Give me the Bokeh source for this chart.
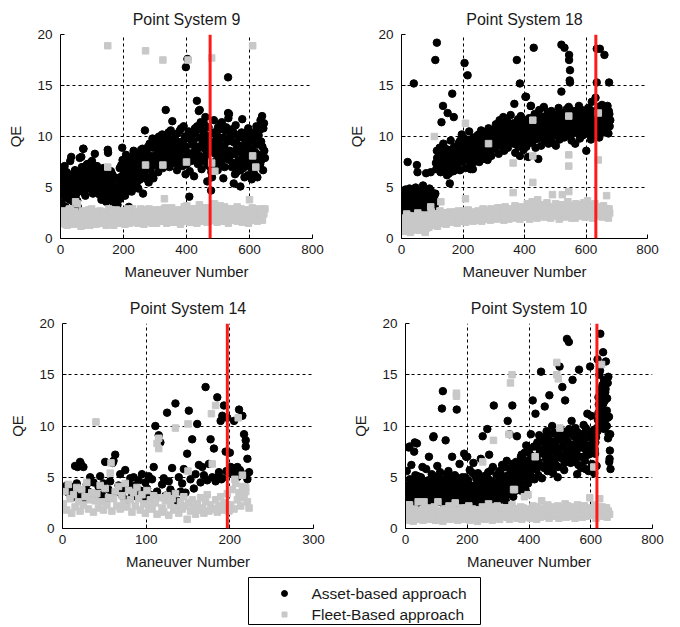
from bokeh.plotting import figure
from bokeh.layouts import column, row
from bokeh.models import Range1d, FixedTicker, Span
from bokeh.embed import file_html
from bokeh.resources import INLINE
from bokeh.core.properties import value

# ---------------- data ----------------
legend_labels = ["Asset-based approach", "Fleet-Based approach"]
panel_titles = ["Point System 9", "Point System 18", "Point System 14", "Point System 10"]
xticks_800 = [0, 200, 400, 600, 800]
xticks_300 = [0, 100, 200, 300]
yticks = [0, 5, 10, 15, 20]
split_maneuver = [475, 632, 197, 620]

# Point System 9
ps9_asset_n = list(range(1, 650, 3))
ps9_asset_qe = [
    6.8, 3.4, 5.9, 4.6, 7.1, 3.0, 5.2, 6.3, 4.1, 5.7, 7.6, 4.8, 6.0, 3.6, 5.4, 6.7, 4.3, 5.1, 3.1, 6.2,
    7.9, 4.7, 6.4, 5.3, 8.8, 6.9, 4.2, 5.8, 7.3, 6.1, 4.9, 6.6, 5.4, 7.6, 4.4, 6.2, 8.3, 5.7, 6.8, 4.6,
    5.9, 4.3, 6.5, 3.8, 5.4, 6.9, 4.7, 5.6, 3.6, 6.2, 8.4, 4.9, 5.3, 6.6, 4.1, 5.8, 3.4, 6.0, 4.5, 5.1,
    3.3, 4.8, 5.6, 3.9, 7.2, 8.9, 5.0, 6.4, 4.2, 8.2, 7.0, 5.7, 3.1, 6.8, 7.9, 4.6, 6.1, 8.6, 5.4, 7.4,
    6.3, 8.0, 4.9, 7.5, 5.8, 8.7, 6.6, 4.4, 7.8, 10.6, 6.0, 8.4, 7.1, 5.5, 9.3, 6.8, 7.7, 9.8, 5.9, 8.1,
    9.4, 7.2, 8.8, 6.5, 10.0, 7.9, 9.1, 8.3, 6.9, 9.7, 8.6, 12.6, 7.5, 9.0, 10.4, 7.0, 8.2, 9.6, 11.5, 8.9,
    7.4, 10.1, 8.5, 6.7, 9.3, 7.8, 10.6, 8.0, 9.5, 7.1, 11.0, 8.7, 6.3, 9.9, 17.6, 8.1, 4.1, 10.3, 7.6, 9.2,
    8.4, 6.1, 10.8, 9.0, 13.5, 7.3, 12.5, 8.9, 11.4, 6.8, 9.7, 10.5, 7.7, 11.9, 8.2, 5.6, 10.0, 9.4, 7.0, 4.7,
    6.0, 9.3, 11.6, 7.5, 8.8, 10.2, 6.7, 9.9, 8.1, 11.2, 7.2, 10.7, 5.9, 9.0, 8.4, 10.9, 7.8, 15.8, 12.2, 8.6,
    9.6, 7.0, 10.5, 5.4, 8.3, 11.1, 6.5, 9.2, 7.7, 10.0, 5.1, 8.9, 11.7, 6.9, 9.8, 7.4, 10.4, 8.0, 6.2, 9.4,
    7.1, 10.3, 5.8, 8.6, 6.4, 9.9, 7.6, 11.0, 6.0, 8.2, 10.6, 7.3, 9.5, 12.0, 6.7, 11.3, 7.9,
]
ps9_asset_n_b = list(range(2, 650, 3))
ps9_asset_qe_b = [
    5.1, 4.4, 6.2, 5.6, 4.0, 5.8, 6.5, 4.7, 5.3, 3.8, 6.0, 5.0, 4.3, 5.7, 6.4, 4.9, 5.5, 3.7, 4.6, 5.9,
    6.3, 5.0, 7.0, 5.7, 4.5, 6.6, 5.4, 7.2, 4.9, 6.0, 5.6, 7.4, 5.2, 6.8, 4.7, 5.9, 6.5, 5.1, 7.1, 5.5,
    5.2, 6.1, 4.6, 5.8, 4.2, 6.4, 5.0, 4.4, 6.7, 5.5, 4.8, 6.0, 3.9, 5.4, 6.3, 4.5, 5.1, 3.6, 4.9, 4.1,
    4.0, 5.9, 6.9, 4.5, 6.1, 7.7, 5.3, 7.3, 6.0, 4.7, 8.0, 6.6, 5.1, 7.5, 5.6, 6.3, 8.1, 5.0, 6.8, 7.1,
    7.2, 5.6, 8.3, 6.4, 7.9, 6.1, 8.8, 7.0, 6.5, 8.5, 7.6, 5.8, 9.0, 6.9, 8.1, 7.4, 6.2, 8.9, 7.3, 9.4,
    8.1, 9.8, 7.6, 8.9, 7.1, 9.4, 8.5, 10.2, 7.8, 9.0, 8.2, 9.9, 7.4, 8.7, 9.5, 7.9, 10.6, 8.4, 9.2, 7.7,
    8.8, 9.6, 7.5, 10.3, 8.2, 9.1, 7.2, 10.8, 8.6, 9.4, 7.9, 10.0, 9.0, 7.3, 8.4, 10.5, 6.6, 9.7, 8.0, 10.2,
    9.5, 7.8, 10.4, 8.6, 11.0, 7.4, 9.9, 8.1, 10.7, 9.2, 7.6, 11.3, 8.8, 10.1, 9.6, 7.2, 10.9, 8.5, 9.0, 6.5,
    8.9, 7.2, 10.4, 8.3, 9.7, 6.8, 10.9, 8.0, 9.3, 7.6, 11.4, 8.7, 9.9, 7.0, 10.6, 8.2, 9.5, 11.8, 7.7, 10.0,
    8.2, 10.7, 7.4, 9.4, 6.3, 10.2, 8.8, 7.1, 9.9, 8.5, 6.7, 10.4, 7.9, 9.1, 6.0, 8.6, 9.6, 7.3, 10.8, 8.0,
    8.9, 6.9, 9.7, 7.5, 10.4, 6.2, 8.4, 9.2, 7.0, 10.1, 8.0, 11.6, 7.7, 9.0, 10.8, 8.6,
]
ps9_asset_extra_n = [398, 532, 442, 150, 66, 72, 16, 34]
ps9_asset_extra_qe = [16.8, 12.3, 12.6, 8.7, 8.0, 8.8, 3.1, 8.0]
ps9_fleet_n = list(range(1, 650, 4))
ps9_fleet_qe = [
    2.1, 1.5, 2.7, 1.8, 2.4, 1.3, 2.0, 2.9, 1.6, 2.2, 1.4, 2.6, 1.9, 3.4, 1.7, 2.3, 1.2, 2.5, 2.0, 1.6,
    2.4, 1.8, 2.8, 1.3, 2.1, 1.6, 2.6, 2.0, 1.4, 2.3, 1.9, 2.7, 1.5, 2.2, 1.7, 2.5, 1.3, 2.0, 2.9, 1.8,
    1.6, 2.4, 1.3, 2.2, 2.8, 1.7, 2.0, 1.5, 2.6, 1.9, 2.3, 1.4, 2.7, 1.8, 2.1, 1.6, 2.5, 2.9, 1.7, 2.2,
    2.0, 1.5, 2.6, 2.2, 1.8, 2.8, 1.4, 2.4, 2.0, 1.7, 2.9, 2.3, 1.6, 2.5, 1.9, 2.7, 1.5, 2.1, 2.8, 1.8,
    2.3, 1.7, 2.9, 2.0, 1.5, 2.6, 2.2, 1.8, 3.0, 2.4, 1.6, 2.1, 2.7, 1.9, 2.5, 1.4, 2.8, 2.2, 1.7, 2.6,
    3.2, 2.0, 1.6, 2.7, 2.3, 1.8, 2.9, 2.1, 1.5, 2.5, 3.3, 1.9, 2.4, 1.7, 2.8, 2.2, 1.6, 3.0, 2.0, 2.6,
    1.8, 2.9, 3.4, 2.2, 1.6, 2.6, 2.0, 2.8, 1.7, 2.4, 3.1, 1.9, 2.3, 1.5, 2.7, 2.1, 2.9, 1.8, 2.5, 2.2,
    1.7, 2.6, 2.0, 2.9, 1.6, 2.3, 2.7, 1.9, 2.4, 1.5, 2.8, 2.1, 3.0, 1.8, 2.5, 2.2, 1.7, 2.6, 2.0, 2.9,
    1.8, 2.4, 2.9,
]
ps9_fleet_n_b = list(range(3, 650, 6))
ps9_fleet_qe_b = [
    1.9, 2.5, 1.4, 2.2, 2.8, 1.7, 2.0, 2.6, 1.5, 2.3, 1.8, 2.7, 1.3, 2.1, 2.4, 1.6, 2.9, 2.0, 1.7, 2.5,
    2.2, 1.5, 2.6, 1.9, 2.3, 1.4, 2.8, 2.0, 1.7, 2.5, 2.1, 1.6, 2.7, 1.8, 2.4, 2.9, 1.5, 2.2, 2.0, 2.6,
    1.8, 2.4, 2.9, 1.6, 2.2, 2.7, 1.9, 2.5, 1.5, 2.3, 2.8, 2.0, 1.7, 2.6, 2.1, 3.0, 1.8, 2.4, 2.2, 1.6,
    2.5, 2.0, 2.8, 1.7, 2.3, 3.1, 1.9, 2.6, 2.2, 1.6, 2.9, 2.4, 2.0, 2.7, 1.8, 2.5, 3.0, 2.1, 1.7, 2.6,
    2.3, 2.8, 1.9, 2.5, 3.2, 2.0, 2.6, 1.7, 2.9, 2.2, 2.4, 1.8, 2.7, 3.1, 2.1, 2.5, 1.9, 2.8, 2.3, 1.7,
    2.6, 2.2, 2.9, 1.8, 2.4, 2.7, 2.0, 2.5,
]
ps9_fleet_extra_n = [150, 270, 325, 405, 480, 610, 150, 270, 325, 400, 480, 490, 610, 620, 330, 600, 48]
ps9_fleet_extra_qe = [18.9, 18.4, 17.5, 17.5, 17.7, 18.9, 7.0, 7.2, 7.2, 7.5, 7.4, 6.6, 8.1, 7.0, 3.9, 3.8, 3.6]

# Point System 18
ps18_asset_n = list(range(1, 680, 3))
ps18_asset_qe = [
    3.6, 2.4, 4.3, 3.0, 4.8, 2.7, 3.9, 3.3, 2.2, 4.5, 3.7, 2.9, 4.1, 3.4, 2.6, 5.0, 3.1, 4.4, 2.5, 3.8,
    4.6, 2.8, 3.5, 5.2, 2.3, 4.0, 3.2, 4.7, 2.6, 3.9, 4.9, 2.4, 3.6, 4.3, 2.9, 4.1, 3.3, 7.4, 8.6, 6.9,
    7.6, 8.9, 6.5, 8.2, 7.1, 9.3, 6.8, 8.0, 7.4, 6.2, 8.7, 7.9, 5.4, 9.6, 7.2, 8.4, 6.6, 7.7, 9.0, 6.9,
    8.1, 7.3, 9.4, 6.7, 8.8, 10.2, 7.6, 9.0, 8.3, 6.9, 9.7, 8.5, 7.8, 10.5, 9.1, 7.2, 8.7, 6.8, 9.9, 8.0,
    9.3, 8.0, 10.1, 8.6, 7.5, 9.8, 10.6, 8.3, 9.1, 7.8, 10.3, 8.9, 9.5, 7.7, 10.8, 8.4, 9.7, 8.1, 10.0, 9.2,
    10.4, 8.8, 11.2, 9.6, 10.0, 8.3, 11.6, 9.3, 10.7, 9.0, 11.9, 8.6, 10.2, 9.8, 11.0, 8.9, 10.5, 9.4, 12.1, 10.1,
    9.5, 11.3, 13.2, 8.4, 10.8, 9.2, 11.7, 10.0, 8.1, 12.0, 9.7, 10.6, 8.7, 11.4, 13.9, 9.0, 10.9, 8.0, 11.8, 10.3,
    13.0, 9.4, 11.6, 10.1, 12.2, 8.9, 11.0, 9.8, 7.8, 12.6, 10.4, 9.1, 11.9, 10.7, 12.9, 9.6, 11.3, 10.0, 12.4, 9.3,
    11.2, 10.0, 12.5, 9.4, 11.8, 10.6, 12.1, 9.1, 11.4, 10.3, 12.8, 9.7, 11.0, 14.4, 10.8, 12.3, 9.9, 11.6, 10.2, 12.7,
    10.5, 12.9, 15.5, 11.1, 9.6, 12.4, 10.9, 11.7, 9.3, 12.0, 10.4, 11.5, 13.0, 9.8, 11.2, 12.6, 10.1, 11.9, 10.7, 12.2,
    8.6, 11.4, 12.8, 10.2, 11.9, 9.7, 13.4, 10.8, 12.3, 11.0, 13.8, 10.0, 12.6, 11.5, 9.9, 12.1, 10.6, 13.1, 11.2, 10.4,
    12.4, 10.9, 11.8, 13.0, 10.3, 12.2, 11.6,
]
ps18_asset_n_b = list(range(2, 680, 3))
ps18_asset_qe_b = [
    3.2, 4.0, 2.8, 4.6, 3.5, 2.6, 4.2, 3.0, 4.9, 3.7, 2.7, 4.4, 3.3, 2.9, 4.7, 3.9, 2.5, 4.1, 3.4, 4.5,
    3.1, 4.3, 2.7, 3.8, 4.8, 3.0, 4.5, 2.6, 3.6, 4.0, 2.9, 4.7, 3.3, 2.5, 4.2, 3.7, 4.4, 6.8, 7.9, 7.1,
    8.0, 7.0, 8.5, 7.5, 6.6, 8.3, 7.2, 8.8, 6.9, 7.7, 8.1, 6.4, 7.4, 8.6, 7.0, 7.9, 8.9, 6.7, 7.6, 8.2,
    8.6, 9.2, 7.9, 9.6, 8.3, 7.6, 9.0, 9.8, 8.1, 8.8, 7.7, 9.4, 8.5, 9.1, 7.8, 9.7, 8.2, 8.9, 7.5, 9.3,
    8.8, 9.6, 8.4, 10.2, 9.0, 8.2, 9.9, 8.7, 10.4, 9.3, 8.5, 9.7, 8.0, 10.0, 9.1, 8.6, 10.5, 9.4, 8.9, 9.8,
    9.7, 10.8, 9.2, 11.1, 10.3, 9.5, 11.4, 10.0, 9.1, 10.6, 11.2, 9.8, 10.9, 9.4, 11.5, 10.2, 9.6, 11.0, 10.4, 9.9,
    10.2, 9.3, 11.0, 9.8, 10.6, 11.4, 9.0, 10.4, 11.1, 9.6, 10.8, 9.2, 11.6, 10.1, 9.5, 10.7, 11.3, 9.9, 10.5, 9.4,
    10.9, 11.7, 10.2, 11.3, 9.7, 12.0, 10.6, 11.1, 10.0, 11.8, 9.9, 10.8, 11.5, 10.3, 11.9, 10.5, 9.6, 11.2, 10.7, 11.6,
    10.8, 11.6, 10.3, 12.0, 11.1, 10.6, 11.9, 10.1, 11.4, 12.2, 10.7, 11.3, 10.4, 11.8, 10.9, 12.1, 10.5, 11.2, 11.7, 10.2,
    11.4, 10.6, 12.2, 10.9, 11.7, 10.3, 12.5, 11.0, 11.9, 10.5, 12.3, 11.2, 10.8, 11.6, 12.0, 10.4, 11.3, 12.4, 10.7, 11.8,
    11.0, 12.2, 10.6, 11.7, 12.6, 10.9, 11.4, 12.0, 10.5, 11.8, 12.4, 11.1, 10.7, 12.9, 11.5, 10.8, 12.3, 11.2, 11.9, 10.6,
    11.4, 12.1, 10.8, 11.7, 12.5, 11.0,
]
ps18_asset_extra_n = [20, 40, 50, 52, 80, 95, 110, 115, 130, 135, 150, 165, 170, 205, 215, 225,
                      375, 385, 430, 405, 420, 520, 530, 545, 545, 548, 548, 635, 645, 660, 675, 635]
ps18_asset_extra_qe = [7.5, 15.2, 7.2, 6.5, 6.4, 6.5, 17.5, 19.2, 11.4, 13.0, 12.3, 14.2, 11.9, 17.2, 16.0, 6.8,
                       17.5, 15.2, 18.7, 13.9, 13.0, 19.0, 18.7, 18.0, 17.5, 16.5, 15.3, 18.6, 18.6, 18.0, 15.3, 15.3]
ps18_fleet_n = list(range(1, 678, 4))
ps18_fleet_qe = [
    1.2, 2.0, 0.7, 1.6, 2.4, 1.0, 1.8, 0.6, 1.4, 2.2, 0.9, 1.7, 1.3, 2.5, 0.8, 1.5, 2.1, 1.1, 1.9, 0.6,
    1.4, 2.3, 1.1, 1.8, 2.6, 1.3, 2.0, 1.6, 2.4, 1.2, 1.9, 2.7, 1.5, 2.1, 1.7, 2.5, 1.4, 2.2, 1.8, 2.6,
    2.0, 1.6, 2.5, 1.8, 2.3, 1.5, 2.7, 2.1, 1.7, 2.4, 1.9, 2.6, 1.6, 2.2, 2.8, 1.8, 2.3, 2.0, 1.7, 2.5,
    2.2, 1.8, 2.7, 2.0, 2.4, 1.7, 2.9, 2.1, 2.5, 1.9, 2.6, 2.2, 1.8, 2.8, 2.3, 2.0, 2.6, 1.9, 3.0, 2.4,
    2.5, 2.0, 2.8, 1.8, 3.1, 2.3, 2.6, 1.9, 2.9, 2.2, 2.7, 2.0, 3.2, 2.4, 2.1, 2.8, 1.9, 2.6, 3.0, 2.3,
    2.7, 2.1, 3.4, 2.4, 1.9, 2.9, 3.6, 2.2, 2.6, 3.1, 2.0, 2.8, 3.3, 2.3, 2.5, 3.0, 2.1, 2.7, 3.5, 2.4,
    2.6, 2.0, 3.1, 2.4, 2.8, 3.4, 2.2, 2.7, 1.9, 3.0, 2.5, 3.3, 2.1, 2.9, 2.4, 3.6, 2.2, 2.8, 2.0, 3.2,
    2.5, 2.0, 2.9, 3.3, 2.2, 2.7, 3.0, 2.4, 3.5, 2.1, 2.8, 3.7, 2.3, 2.6, 3.1, 2.0, 2.9, 3.4, 2.5, 2.2,
    3.0, 2.4, 2.8, 2.1, 3.2, 2.6, 2.3, 2.9, 2.0, 2.5,
]
ps18_fleet_n_b = list(range(3, 680, 6))
ps18_fleet_qe_b = [
    1.5, 0.9, 1.9, 1.2, 2.2, 0.8, 1.6, 2.0, 1.1, 1.7, 2.3, 1.3, 1.8, 1.0, 2.1, 1.5, 1.9, 2.4, 1.4, 2.0,
    1.8, 2.3, 1.6, 2.0, 2.5, 1.7, 2.2, 1.9, 2.6, 2.1, 1.8, 2.4, 2.0, 2.7, 1.9, 2.3, 2.5, 1.8, 2.2, 2.6,
    2.1, 2.6, 1.9, 2.4, 2.8, 2.2, 2.5, 2.0, 2.9, 2.3, 2.7, 2.1, 2.6, 3.0, 2.2, 2.5, 2.8, 2.3, 2.7, 2.4,
    2.4, 2.9, 2.2, 2.7, 3.1, 2.5, 2.3, 3.0, 2.6, 2.8, 2.2, 3.2, 2.5, 2.9, 2.4, 2.7, 3.3, 2.6, 2.3, 3.0,
    2.7, 2.3, 3.1, 2.5, 2.9, 3.3, 2.4, 2.8, 2.6, 3.2, 2.2, 2.9, 3.0, 2.5, 3.4, 2.7, 2.4, 3.1, 2.6, 2.9,
    2.5, 3.0, 2.7, 3.3, 2.4, 2.9, 3.1, 2.6, 2.8, 2.3, 2.7, 2.5, 2.9,
]
ps18_fleet_extra_n = [107, 128, 208, 208, 283, 363, 363, 427, 427, 427, 443, 491, 523, 544, 544, 544, 544, 640, 640, 667, 95]
ps18_fleet_extra_qe = [10.0, 3.6, 11.3, 3.9, 9.3, 7.4, 4.5, 11.6, 8.1, 5.5, 3.8, 4.3, 4.3, 12.0, 8.2, 7.1, 4.6, 7.7, 12.3, 4.2, 3.1]

# Point System 14
ps14_asset_n = list(range(1, 224, 2))
ps14_asset_qe = [
    4.0, 3.8, 4.2, 3.5, 4.1, 3.0, 3.9, 6.1, 4.4, 3.2, 6.5, 3.7, 6.0, 2.9, 4.3, 3.6, 5.0, 3.1, 4.5, 3.4,
    3.0, 4.1, 5.1, 3.3, 4.4, 6.5, 2.9, 3.8, 4.6, 3.1, 6.6, 7.2, 3.6, 4.2, 5.3, 3.2, 3.9, 5.7, 2.8, 4.4,
    4.9, 3.4, 5.0, 4.2, 3.1, 4.7, 3.7, 5.3, 3.0, 4.5, 3.9, 5.1, 3.3, 4.8, 6.0, 10.0, 3.6, 9.1, 8.4, 4.3,
    4.9, 3.2, 11.3, 4.6, 3.8, 5.9, 3.4, 12.2, 2.7, 5.0, 3.6, 4.4, 5.8, 3.5, 7.3, 11.5, 4.8, 8.7, 3.9, 5.3,
    10.2, 6.2, 4.5, 6.0, 5.2, 13.8, 4.7, 6.3, 8.7, 5.0, 7.8, 4.6, 12.8, 5.5, 10.5, 4.9, 12.0, 7.5, 10.8, 5.4,
    6.0, 5.3, 10.5, 5.8, 5.0, 11.6, 5.5, 11.0, 9.2, 8.0, 6.8, 5.5,
]
ps14_asset_extra_n = [18, 22, 60, 191, 209, 221, 219, 200, 185, 190, 196, 203, 207, 212]
ps14_asset_extra_qe = [6.0, 6.3, 6.4, 11.0, 6.0, 4.8, 8.6, 7.4, 5.0, 4.8, 5.6, 5.9, 5.3, 5.7]
ps14_fleet_n = list(range(1, 224, 2))
ps14_fleet_qe = [
    2.4, 3.6, 1.8, 4.3, 2.9, 1.5, 3.3, 2.1, 4.0, 2.6, 1.7, 3.8, 2.3, 3.1, 4.5, 1.9, 2.8, 3.5, 1.6, 2.7,
    3.4, 2.0, 4.2, 2.6, 1.8, 3.9, 2.3, 3.0, 5.4, 1.7, 2.9, 3.6, 2.2, 4.1, 1.9, 3.2, 2.5, 4.4, 2.1, 3.7,
    2.8, 1.6, 3.5, 2.2, 4.0, 2.9, 1.8, 3.3, 2.4, 1.5, 3.7, 2.1, 2.8, 1.9, 3.2, 2.5, 1.4, 8.8, 3.0, 2.0,
    1.6, 2.7, 3.2, 1.3, 2.3, 2.9, 1.8, 3.4, 2.0, 1.5, 2.6, 1.9, 3.1, 2.2, 0.9, 2.5, 1.7, 2.8, 2.1, 1.4,
    2.4, 1.8, 3.0, 2.0, 1.5, 2.6, 3.3, 1.7, 2.3, 6.3, 1.9, 2.8, 1.6, 2.2, 3.1, 1.8, 2.5, 2.0, 3.4, 1.7,
    2.3, 3.8, 1.9, 4.4, 2.8, 3.5, 2.2, 4.1, 3.0, 3.6, 2.6, 2.0,
]
ps14_fleet_extra_n = [40, 58, 115, 135, 150, 178, 183, 210, 215, 219, 150, 113, 206, 212]
ps14_fleet_extra_qe = [10.4, 6.4, 7.8, 9.8, 10.2, 11.2, 12.0, 10.8, 5.2, 4.0, 5.6, 8.3, 4.8, 3.3]

# Point System 10
ps10_asset_n = list(range(1, 665, 3))
ps10_asset_qe = [
    3.2, 5.6, 2.5, 4.1, 8.0, 3.0, 6.2, 2.7, 4.6, 7.5, 3.5, 2.3, 8.3, 5.1, 3.8, 2.6, 4.9, 3.1, 6.0, 2.9,
    4.4, 2.4, 5.8, 3.3, 2.8, 7.0, 4.0, 2.5, 5.3, 3.6, 9.0, 2.7, 4.7, 3.0, 6.1, 2.6, 4.2, 5.5, 3.4, 11.7,
    13.4, 2.9, 4.8, 8.6, 3.7, 2.4, 5.6, 3.2, 4.3, 2.8, 7.0, 3.9, 2.6, 5.2, 3.5, 11.6, 4.5, 2.3, 6.3, 3.8,
    2.9, 5.0, 3.4, 7.3, 2.5, 7.0, 4.6, 3.1, 2.4, 5.7, 3.6, 2.8, 4.1, 6.4, 3.0, 2.2, 4.9, 3.7, 5.4, 2.6,
    4.2, 6.8, 3.1, 9.0, 2.7, 4.8, 3.5, 2.4, 9.7, 5.5, 7.2, 3.0, 4.5, 2.6, 6.0, 12.0, 3.8, 2.9, 5.2, 3.4,
    3.9, 5.6, 2.8, 4.7, 6.2, 3.3, 5.0, 4.1, 2.7, 6.6, 10.5, 3.6, 9.2, 5.3, 4.4, 12.0, 3.1, 5.8, 4.9, 6.5,
    9.0, 4.2, 6.0, 5.1, 3.7, 7.2, 4.6, 6.7, 5.4, 3.9, 8.1, 5.8, 4.4, 7.6, 6.3, 9.2, 5.0, 12.5, 7.0, 4.8,
    11.2, 6.5, 8.4, 5.2, 9.1, 7.3, 15.3, 4.9, 8.8, 6.1, 11.9, 7.7, 9.5, 5.6, 8.0, 13.0, 6.8, 8.3, 10.0, 5.4,
    7.9, 9.3, 6.2, 8.6, 5.0, 7.4, 15.8, 9.7, 6.9, 13.8, 8.2, 5.7, 12.5, 8.9, 18.5, 7.1, 18.2, 9.4, 6.4, 10.5,
    14.5, 8.1, 6.6, 9.8, 7.5, 5.3, 8.7, 15.5, 7.0, 9.2, 6.0, 8.4, 10.1, 7.8, 5.8, 9.6, 11.2, 7.2, 8.9, 15.8,
    11.0, 6.3, 8.5, 5.6, 7.7, 9.4, 6.1, 16.5, 12.8, 15.0, 19.0, 13.0, 11.2, 17.2, 14.5, 12.5, 16.3, 10.0, 14.2, 9.2,
    6.8, 5.8,
]
ps10_asset_n_b = list(range(2, 665, 3))
ps10_asset_qe_b = [
    3.4, 2.6, 4.2, 3.0, 4.8, 2.8, 3.7, 4.4, 2.5, 3.9, 5.2, 3.1, 4.0, 2.7, 4.6, 3.3, 5.0, 2.9, 3.6, 4.3,
    2.8, 4.1, 3.5, 2.5, 4.7, 3.2, 3.9, 2.6, 4.4, 3.0, 5.1, 3.8, 2.7, 4.5, 3.3, 2.9, 4.9, 3.6, 4.0, 2.5,
    3.7, 4.5, 2.8, 3.4, 5.3, 2.6, 4.1, 3.0, 4.8, 3.9, 2.5, 4.3, 3.3, 5.0, 2.7, 3.8, 4.6, 3.1, 2.9, 4.2,
    3.5, 2.7, 4.4, 3.2, 5.0, 2.6, 3.9, 4.7, 3.0, 2.5, 4.2, 3.6, 5.4, 2.9, 4.0, 3.3, 2.7, 4.6, 3.1, 4.3,
    3.0, 4.5, 2.6, 3.8, 5.1, 2.9, 4.2, 3.4, 2.5, 4.8, 3.6, 5.6, 2.8, 4.0, 3.2, 4.6, 2.7, 3.9, 5.0, 3.3,
    4.3, 3.1, 5.4, 3.8, 2.9, 4.9, 3.5, 6.0, 4.2, 3.3, 5.2, 4.6, 3.7, 5.7, 4.0, 6.3, 4.8, 3.6, 5.5, 4.4,
    5.0, 6.4, 4.4, 5.7, 7.0, 4.9, 6.1, 5.3, 7.4, 4.7, 6.6, 5.5, 7.8, 6.0, 5.2, 7.1, 6.5, 5.8, 8.0, 6.2,
    7.0, 5.8, 8.2, 6.5, 7.7, 8.9, 6.1, 7.4, 8.5, 5.9, 7.9, 6.8, 9.0, 7.2, 6.3, 8.6, 7.5, 6.0, 8.1, 9.3,
    6.6, 8.4, 7.3, 9.1, 6.0, 7.8, 8.8, 6.9, 9.5, 7.1, 8.0, 6.4, 9.2, 7.6, 8.5, 6.8, 9.7, 7.4, 8.2, 6.7,
    7.7, 9.0, 6.5, 8.3, 7.2, 9.4, 6.2, 8.7, 7.9, 5.9, 9.1, 7.0, 8.5, 6.6, 9.8, 7.5, 8.1, 5.6, 9.3, 7.3,
    8.0, 6.0, 9.5, 5.4, 7.3, 8.9, 9.8, 10.6, 12.1, 11.4, 13.6, 10.3, 14.0, 12.2, 9.7, 13.3, 11.0, 12.7, 8.8, 10.9,
    7.6,
]
ps10_asset_extra_n = [10, 30, 90, 200, 630, 636, 642, 648, 652, 655, 657, 622, 625, 628, 660, 663, 645, 615, 610]
ps10_asset_extra_qe = [7.9, 8.4, 8.9, 7.0, 15.4, 12.0, 11.0, 13.6, 11.5, 10.8, 14.8, 9.5, 11.3, 10.2, 6.5, 9.2, 10.5, 8.4, 9.6]
ps10_fleet_n = list(range(1, 662, 4))
ps10_fleet_qe = [
    1.2, 0.8, 1.6, 2.3, 1.0, 1.4, 0.7, 1.9, 1.1, 1.5, 2.6, 0.9, 1.3, 1.8, 0.8, 1.2, 1.6, 1.0, 2.0, 1.4,
    0.9, 1.5, 1.1, 2.1, 0.8, 1.3, 2.6, 1.0, 1.7, 1.2, 0.7, 1.9, 1.4, 1.0, 1.6, 2.2, 0.9, 1.3, 1.8, 1.1,
    2.5, 1.2, 0.8, 1.6, 1.0, 2.0, 1.4, 0.9, 1.7, 1.1, 1.5, 2.2, 0.8, 1.3, 1.9, 1.0, 1.6, 1.2, 0.7, 1.8,
    1.3, 1.0, 2.1, 1.5, 0.9, 1.7, 1.2, 2.4, 1.0, 1.4, 0.8, 1.9, 1.3, 1.6, 2.2, 1.1, 0.9, 1.5, 1.8, 1.2,
    1.4, 2.0, 1.1, 1.7, 0.9, 1.5, 2.3, 1.2, 3.8, 1.6, 1.0, 1.9, 1.3, 2.1, 0.9, 1.4, 3.1, 1.7, 1.2, 3.3,
    1.5, 1.0, 1.8, 2.2, 1.3, 1.6, 0.9, 2.0, 1.4, 1.1, 2.7, 1.7, 1.2, 1.9, 1.5, 2.3, 1.0, 1.6, 1.3, 2.1,
    1.2, 1.8, 1.4, 2.2, 1.0, 1.6, 2.0, 1.3, 1.7, 2.4, 1.1, 1.5, 1.9, 1.2, 2.1, 1.4, 1.8, 1.0, 1.6, 2.3,
    1.3, 1.9, 1.5, 1.1, 2.2, 1.7, 1.2, 2.0, 1.4, 3.0, 1.6, 1.9, 1.3, 2.3, 1.0, 1.8, 1.5, 2.9, 1.2, 2.1,
    1.6, 1.3, 2.0, 1.1, 1.7, 1.4,
]
ps10_fleet_n_b = list(range(3, 662, 6))
ps10_fleet_qe_b = [
    1.0, 1.5, 1.2, 1.8, 0.9, 1.4, 1.7, 1.1, 1.6, 1.3, 2.0, 1.0, 1.5, 1.2, 1.8, 1.4, 0.9, 1.7, 1.3, 1.6,
    1.1, 1.5, 1.9, 1.2, 1.6, 1.0, 1.4, 1.8, 1.3, 1.7, 1.0, 1.5, 2.0, 1.2, 1.6, 1.4, 1.1, 1.8, 1.3, 1.5,
    1.6, 1.2, 1.9, 1.4, 1.0, 1.7, 1.5, 2.1, 1.3, 1.6, 1.1, 1.8, 1.4, 2.0, 1.2, 1.7, 1.5, 1.3, 1.9, 1.6,
    1.4, 1.8, 1.2, 2.0, 1.5, 1.7, 1.1, 1.9, 1.6, 1.3, 2.1, 1.5, 1.8, 1.2, 1.7, 2.0, 1.4, 1.6, 1.9, 1.3,
    1.7, 1.4, 2.1, 1.6, 1.2, 1.9, 1.5, 2.2, 1.3, 1.8, 1.6, 2.0, 1.4, 1.7, 1.9, 1.3, 2.2, 1.6, 1.8, 1.5,
    1.9, 1.4, 1.7, 2.1, 1.3, 1.8, 1.6, 1.5, 2.0, 1.4,
]
ps10_fleet_extra_n = [165, 165, 250, 285, 335, 340, 345, 350, 420, 490, 490, 495, 500, 610, 635, 10, 60]
ps10_fleet_extra_qe = [13.2, 12.9, 6.5, 8.6, 9.2, 14.2, 15.0, 3.8, 7.0, 16.2, 15.0, 14.6, 9.8, 6.0, 16.0, 2.3, 2.6]

# ---------------- styling ----------------
FONT = "Liberation Sans"
TEXT_COLOR = "#1a1a1a"
ASSET_COLOR = "#000000"
FLEET_COLOR = "#c8c8c8"
SPLIT_COLOR = "#ff1a1a"


def series(*parts):
    xs, ys = [], []
    for n, q in parts:
        k = min(len(n), len(q))
        xs += list(n[:k])
        ys += list(q[:k])
    return xs, ys


def make_panel(title, asset, fleet, xmax, xticks, split, w, h, bl, br, bt, bb, title_gap):
    p = figure(width=w, height=h,
               min_border_left=bl, min_border_right=br, min_border_top=bt, min_border_bottom=bb,
               x_range=Range1d(0, xmax), y_range=Range1d(0, 20),
               output_backend="svg", toolbar_location=None, title=title)
    p.title.align = "center"
    p.title.text_font = FONT
    p.title.text_font_size = "16px"
    p.title.text_font_style = "normal"
    p.title.text_color = TEXT_COLOR
    p.title.standoff = title_gap
    p.outline_line_color = None

    p.xaxis.ticker = FixedTicker(ticks=xticks)
    p.yaxis.ticker = FixedTicker(ticks=yticks)
    p.xaxis.axis_label = "Maneuver Number"
    p.yaxis.axis_label = "QE"
    for ax in (p.xaxis, p.yaxis):
        ax.axis_line_color = "black"
        ax.axis_line_width = 1
        ax.major_tick_in = 4
        ax.major_tick_out = 0
        ax.minor_tick_in = 0
        ax.minor_tick_out = 0
        ax.major_tick_line_color = "black"
        ax.major_label_text_font = FONT
        ax.major_label_text_font_size = "13.5px"
        ax.major_label_text_color = TEXT_COLOR
        ax.axis_label_text_font = FONT
        ax.axis_label_text_font_size = "15px"
        ax.axis_label_text_font_style = "normal"
        ax.axis_label_text_color = TEXT_COLOR
    p.xaxis.major_label_standoff = 6
    p.yaxis.major_label_standoff = 8
    p.xaxis.axis_label_standoff = 6
    p.yaxis.axis_label_standoff = 10

    p.grid.grid_line_color = "black"
    p.grid.grid_line_dash = "3 3"
    p.grid.grid_line_width = 1

    p.scatter(asset[0], asset[1], marker="circle", size=7.5, color=ASSET_COLOR)
    p.scatter(fleet[0], fleet[1], marker="square", size=6.5, color=FLEET_COLOR)
    p.add_layout(Span(location=split, dimension="height", line_color=SPLIT_COLOR, line_width=3))
    return p


p1 = make_panel(panel_titles[0],
                series((ps9_asset_n, ps9_asset_qe), (ps9_asset_n_b, ps9_asset_qe_b), (ps9_asset_extra_n, ps9_asset_extra_qe)),
                series((ps9_fleet_n, ps9_fleet_qe), (ps9_fleet_n_b, ps9_fleet_qe_b), (ps9_fleet_extra_n, ps9_fleet_extra_qe)),
                800, xticks_800, split_maneuver[0], 345, 290, 60, 33, 34, 52, 14)
p2 = make_panel(panel_titles[1],
                series((ps18_asset_n, ps18_asset_qe), (ps18_asset_n_b, ps18_asset_qe_b), (ps18_asset_extra_n, ps18_asset_extra_qe)),
                series((ps18_fleet_n, ps18_fleet_qe), (ps18_fleet_n_b, ps18_fleet_qe_b), (ps18_fleet_extra_n, ps18_fleet_extra_qe)),
                800, xticks_800, split_maneuver[1], 333, 290, 52, 31, 34, 52, 14)
p3 = make_panel(panel_titles[2],
                series((ps14_asset_n, ps14_asset_qe), (ps14_asset_extra_n, ps14_asset_extra_qe)),
                series((ps14_fleet_n, ps14_fleet_qe), (ps14_fleet_extra_n, ps14_fleet_extra_qe)),
                300, xticks_300, split_maneuver[2], 349, 285, 62, 36, 33, 47, 13)
p4 = make_panel(panel_titles[3],
                series((ps10_asset_n, ps10_asset_qe), (ps10_asset_n_b, ps10_asset_qe_b), (ps10_asset_extra_n, ps10_asset_extra_qe)),
                series((ps10_fleet_n, ps10_fleet_qe), (ps10_fleet_n_b, ps10_fleet_qe_b), (ps10_fleet_extra_n, ps10_fleet_extra_qe)),
                800, xticks_800, split_maneuver[3], 329, 285, 52, 26, 33, 47, 13)

# legend strip
leg = figure(width=678, height=50, x_range=Range1d(0, 678), y_range=Range1d(0, 50),
             x_axis_type=None, y_axis_type=None, min_border=0,
             output_backend="svg", toolbar_location=None)
leg.grid.visible = False
leg.outline_line_color = None
leg.quad(left=[248], right=[480], bottom=[1], top=[48], fill_color=None, line_color="black", line_width=1)
leg.scatter([284], [32], marker="circle", size=6, color=ASSET_COLOR)
leg.scatter([284], [11], marker="square", size=5, color=FLEET_COLOR)
leg.text([311, 311], [32, 11], text=legend_labels, text_font=value(FONT), text_font_size="15.5px",
         text_baseline="middle", text_align="left", text_color=TEXT_COLOR)

layout = column(row(p1, p2), row(p3, p4), leg)
open("out.html", "w").write(file_html(layout, INLINE))
